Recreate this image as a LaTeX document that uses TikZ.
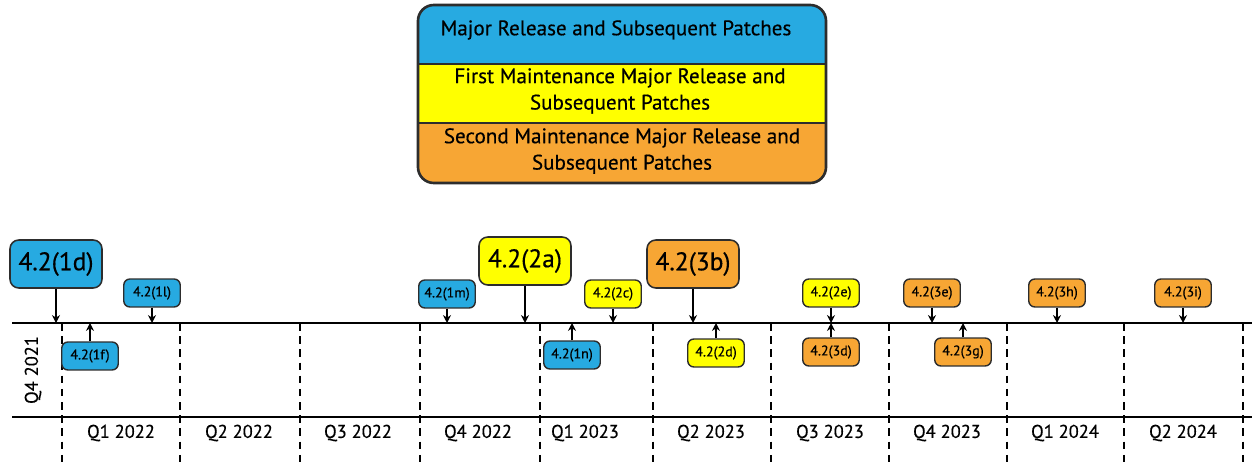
\documentclass[tikz,border=0pt]{standalone}
\usepackage{fontspec}
\setmainfont{PT Sans}[FakeBold=0.4]
\usetikzlibrary{arrows.meta}
\definecolor{relblue}{RGB}{39,170,225}
\definecolor{relyellow}{RGB}{255,255,0}
\definecolor{relorange}{RGB}{247,166,52}
\definecolor{reledge}{RGB}{45,45,45}
\begin{document}
\begin{tikzpicture}[x=0.02cm,y=-0.02cm,
    bigrel/.style={draw=reledge,line width=0.9pt,rounded corners=5pt,minimum width=1.84cm,minimum height=0.96cm,inner sep=0pt,font=\fontsize{14.5}{14.5}\selectfont},
    smallrel/.style={draw=reledge,line width=0.8pt,rounded corners=3.5pt,minimum width=1.13cm,minimum height=0.56cm,inner sep=0pt,font=\fontsize{8}{8}\selectfont},
    relarrow/.style={line width=1.1pt,-{Stealth[length=4.5pt,width=4.5pt]}},
    quarter/.style={font=\fontsize{10.5}{10.5}\selectfont},
    qline/.style={dash pattern=on 4.3pt off 3.2pt,line width=1.2pt}]
\useasboundingbox (0,0) rectangle (1258,462);

%% legend
\begin{scope}
    \clip[rounded corners=9pt] (418,5) rectangle (826,183);
    \fill[relblue] (418,5) rectangle (826,64);
    \fill[relyellow] (418,64) rectangle (826,123);
    \fill[relorange] (418,123) rectangle (826,183);
\end{scope}
\draw[line width=1.3pt,reledge] (418,64) -- (826,64);
\draw[line width=1.3pt,reledge] (418,123) -- (826,123);
\draw[line width=1.5pt,reledge,rounded corners=9pt] (418,5) rectangle (826,183);
\node[font=\fontsize{12}{12}\selectfont] (lgmajor) at (616,30) {Major Release and Subsequent Patches};
\node[align=center,font=\fontsize{12}{15}\selectfont] (lgfirst) at (620,91) {First Maintenance Major Release and\\Subsequent Patches};
\node[align=center,font=\fontsize{12}{15}\selectfont] (lgsecond) at (622,151) {Second Maintenance Major Release and\\Subsequent Patches};

%% timeline
\draw[line width=1.5pt] (12,323) to (1252,323);
\draw[line width=1.5pt] (12,417) to (1252,417);
\foreach \x in {62,180,540,653,771,889,1007,1124,1243}
    \draw[qline] (\x,323) to (\x,462);
\foreach \x in {300,420}
    \draw[qline,line width=0.8pt] (\x,323) to (\x,462);
\node[quarter,rotate=90] (q421) at (33,370) {Q4 2021};
\foreach \x/\q in {121/Q1 2022,239/Q2 2022,358/Q3 2022,478/Q4 2022,585/Q1 2023,711/Q2 2023,830/Q3 2023,947/Q4 2023,1065/Q1 2024,1183/Q2 2024}
    \node[quarter] at (\x,433) {\q};

%% releases above the line
\node[bigrel,fill=relblue] (r1d) at (56,264) {4.2(1d)};
\node[bigrel,fill=relyellow] (r2a) at (525,261) {4.2(2a)};
\node[bigrel,fill=relorange] (r3b) at (693,264) {4.2(3b)};
\node[smallrel,fill=relblue] (r1l) at (152,293) {4.2(1l)};
\node[smallrel,fill=relblue] (r1m) at (447,294) {4.2(1m)};
\node[smallrel,fill=relyellow] (r2c) at (613,294) {4.2(2c)};
\node[smallrel,fill=relyellow] (r2e) at (831,293) {4.2(2e)};
\node[smallrel,fill=relorange] (r3e) at (932,293) {4.2(3e)};
\node[smallrel,fill=relorange] (r3h) at (1057,293) {4.2(3h)};
\node[smallrel,fill=relorange] (r3i) at (1183,293) {4.2(3i)};

%% releases below the line
\node[smallrel,fill=relblue] (r1f) at (90,356) {4.2(1f)};
\node[smallrel,fill=relblue] (r1n) at (572,355) {4.2(1n)};
\node[smallrel,fill=relyellow] (r2d) at (716,353) {4.2(2d)};
\node[smallrel,fill=relorange] (r3d) at (831,352) {4.2(3d)};
\node[smallrel,fill=relorange] (r3g) at (963,352) {4.2(3g)};

%% arrows to the line
\foreach \n/\x in {1d/56,2a/525,3b/693,1l/152,1m/447,2c/613,2e/831,3e/932,3h/1057,3i/1183,1f/90,1n/572,2d/716,3d/831,3g/963}
    \coordinate (t\n) at (\x,323);
\foreach \n in {1d,2a,3b,1l,1m,2c,2e,3e,3h,3i,1f,1n,2d,3d,3g}
    \draw[relarrow] (r\n) -- (t\n);

\end{tikzpicture}
\end{document}
